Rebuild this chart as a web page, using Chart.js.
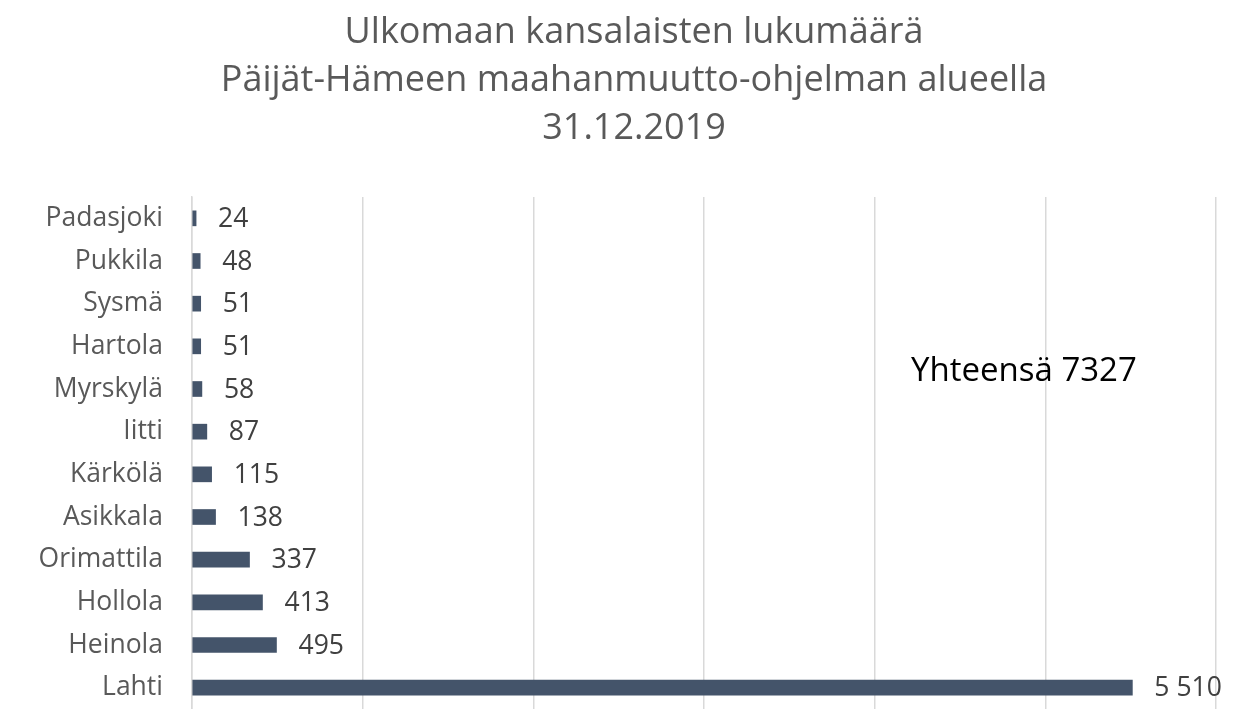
<!DOCTYPE html>
<html>
<head>
<meta charset="utf-8">
<script src="https://cdn.jsdelivr.net/npm/chart.js@4"></script>
<style>
html,body{margin:0;padding:0;background:#fff;}
#wrap{width:1246px;height:709px;position:relative;}
</style>
</head>
<body>
<div id="wrap"><canvas id="c" width="1246" height="709"></canvas></div>
<script>
const categories = ["Padasjoki","Pukkila","Sysmä","Hartola","Myrskylä","Iitti","Kärkölä","Asikkala","Orimattila","Hollola","Heinola","Lahti"];
const values = [24,48,51,51,58,87,115,138,337,413,495,5510];
const titleLines = ["Ulkomaan kansalaisten lukumäärä","Päijät-Hämeen maahanmuutto-ohjelman alueella","31.12.2019"];
const totalNote = "Yhteensä 7327";
const xMax = 6000, xStep = 1000;

const FONT = "'Open Sans', 'Noto Sans', sans-serif";

function fmt(v){ return String(v).replace(/\B(?=(\d{3})+(?!\d))/g, " "); }

const extras = {
  id: 'extras',
  afterDraw(chart){
    const ctx = chart.ctx;
    ctx.save();
    ctx.fillStyle = '#595959';
    ctx.font = "36px " + FONT;
    ctx.textAlign = 'center';
    ctx.textBaseline = 'middle';
    titleLines.forEach((t,i)=> ctx.fillText(t, 634, 33 + i*48));
    const meta = chart.getDatasetMeta(0);
    ctx.fillStyle = '#404040';
    ctx.font = "26.5px " + FONT;
    ctx.textAlign = 'left';
    meta.data.forEach((bar,i)=>{
      ctx.fillText(fmt(values[i]), bar.x + 22, bar.y + 1);
    });
    ctx.fillStyle = '#000000';
    ctx.font = "33px " + FONT;
    ctx.fillText(totalNote, 911, 372);
    ctx.restore();
  }
};

new Chart(document.getElementById('c'), {
  type: 'bar',
  data: {
    labels: categories,
    datasets: [{
      data: values,
      backgroundColor: '#44546A',
      barThickness: 15
    }]
  },
  options: {
    indexAxis: 'y',
    responsive: false,
    animation: false,
    layout: { padding: { top: 197, right: 30, left: 0, bottom: 0 } },
    plugins: { legend: { display: false }, tooltip: { enabled: false }, title: { display: false } },
    scales: {
      x: {
        min: 0, max: xMax,
        afterFit(s){ s.height = 0; s.paddingLeft = 0; s.paddingRight = 0; },
        ticks: { display: false, stepSize: xStep },
        grid: { color: '#d9d9d9', lineWidth: 1.5, drawTicks: false },
        border: { display: false }
      },
      y: {
        afterFit(s){ s.width = 192; s.paddingTop = 0; s.paddingBottom = 0; },
        ticks: { color: '#595959', font: { size: 26.5, family: FONT }, padding: 29 },
        grid: { display: false, drawTicks: false },
        border: { display: true, color: '#d9d9d9', width: 1.5 }
      }
    }
  },
  plugins: [extras]
});
</script>
</body>
</html>
